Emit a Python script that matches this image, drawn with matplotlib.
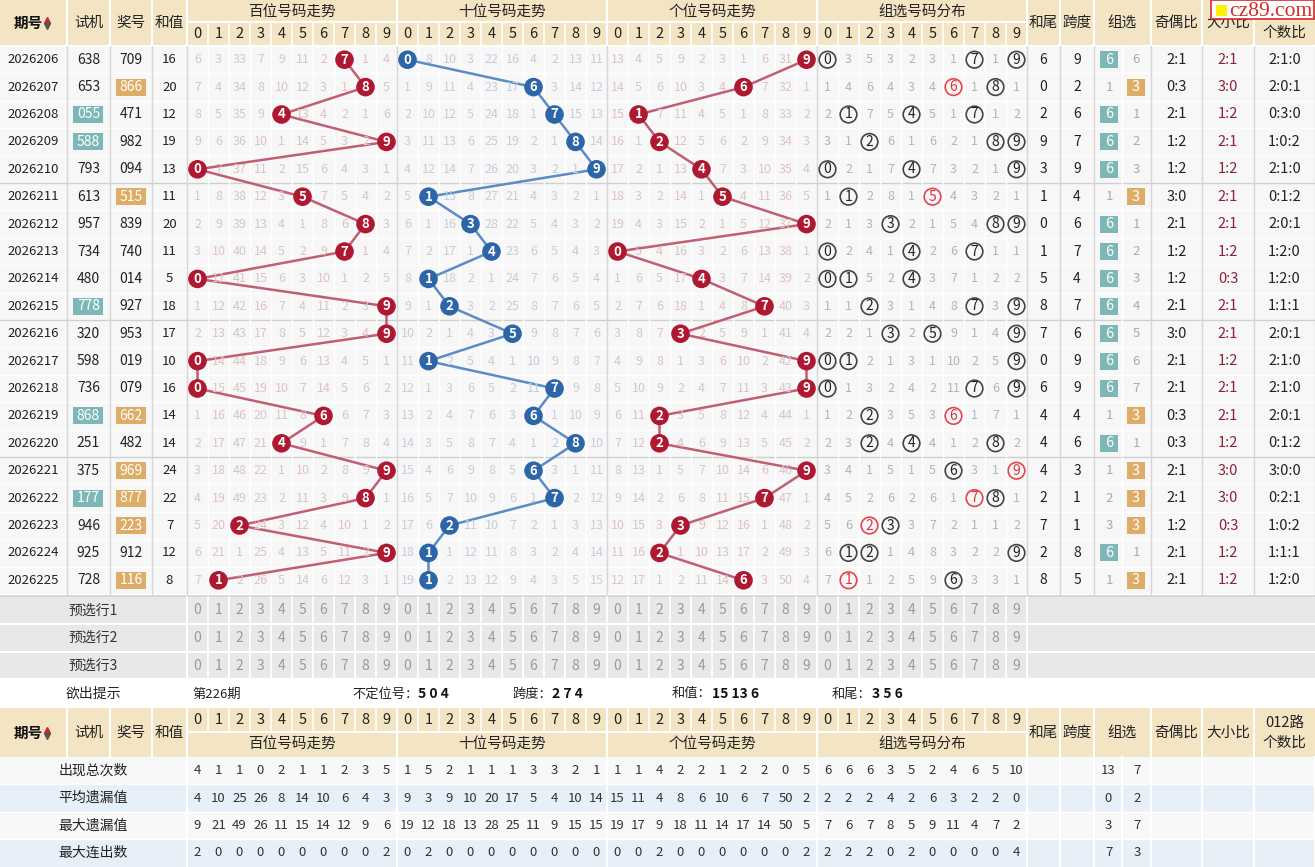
import matplotlib
matplotlib.use('Agg')
import matplotlib.pyplot as plt
from matplotlib.patches import Rectangle, Circle

plt.rcParams['font.family'] = ['Noto Sans CJK SC', 'DejaVu Sans']

# ---------------- data ----------------
periods = [2026206 + i for i in range(20)]
shiji = ['638', '653', '055', '588', '793', '613', '957', '734', '480', '778',
         '320', '598', '736', '868', '251', '375', '177', '946', '925', '728']
jianghao = ['709', '866', '471', '982', '094', '515', '839', '740', '014', '927',
            '953', '019', '079', '662', '482', '969', '877', '223', '912', '116']
hezhi = [16, 20, 12, 19, 13, 11, 20, 11, 5, 18, 17, 10, 16, 14, 14, 24, 22, 7, 12, 8]

# miss tables, 0 = drawn in that period
bai_miss = [
    [6, 3, 33, 7, 9, 11, 2, 0, 1, 4], [7, 4, 34, 8, 10, 12, 3, 1, 0, 5],
    [8, 5, 35, 9, 0, 13, 4, 2, 1, 6], [9, 6, 36, 10, 1, 14, 5, 3, 2, 0],
    [0, 7, 37, 11, 2, 15, 6, 4, 3, 1], [1, 8, 38, 12, 3, 0, 7, 5, 4, 2],
    [2, 9, 39, 13, 4, 1, 8, 6, 0, 3], [3, 10, 40, 14, 5, 2, 9, 0, 1, 4],
    [0, 11, 41, 15, 6, 3, 10, 1, 2, 5], [1, 12, 42, 16, 7, 4, 11, 2, 3, 0],
    [2, 13, 43, 17, 8, 5, 12, 3, 4, 0], [0, 14, 44, 18, 9, 6, 13, 4, 5, 1],
    [0, 15, 45, 19, 10, 7, 14, 5, 6, 2], [1, 16, 46, 20, 11, 8, 0, 6, 7, 3],
    [2, 17, 47, 21, 0, 9, 1, 7, 8, 4], [3, 18, 48, 22, 1, 10, 2, 8, 9, 0],
    [4, 19, 49, 23, 2, 11, 3, 9, 0, 1], [5, 20, 0, 24, 3, 12, 4, 10, 1, 2],
    [6, 21, 1, 25, 4, 13, 5, 11, 2, 0], [7, 0, 2, 26, 5, 14, 6, 12, 3, 1],
]
shi_miss = [
    [0, 8, 10, 3, 22, 16, 4, 2, 13, 11], [1, 9, 11, 4, 23, 17, 0, 3, 14, 12],
    [2, 10, 12, 5, 24, 18, 1, 0, 15, 13], [3, 11, 13, 6, 25, 19, 2, 1, 0, 14],
    [4, 12, 14, 7, 26, 20, 3, 2, 1, 0], [5, 0, 15, 8, 27, 21, 4, 3, 2, 1],
    [6, 1, 16, 0, 28, 22, 5, 4, 3, 2], [7, 2, 17, 1, 0, 23, 6, 5, 4, 3],
    [8, 0, 18, 2, 1, 24, 7, 6, 5, 4], [9, 1, 0, 3, 2, 25, 8, 7, 6, 5],
    [10, 2, 1, 4, 3, 0, 9, 8, 7, 6], [11, 0, 2, 5, 4, 1, 10, 9, 8, 7],
    [12, 1, 3, 6, 5, 2, 11, 0, 9, 8], [13, 2, 4, 7, 6, 3, 0, 1, 10, 9],
    [14, 3, 5, 8, 7, 4, 1, 2, 0, 10], [15, 4, 6, 9, 8, 5, 0, 3, 1, 11],
    [16, 5, 7, 10, 9, 6, 1, 0, 2, 12], [17, 6, 0, 11, 10, 7, 2, 1, 3, 13],
    [18, 0, 1, 12, 11, 8, 3, 2, 4, 14], [19, 0, 2, 13, 12, 9, 4, 3, 5, 15],
]
ge_miss = [
    [13, 4, 5, 9, 2, 3, 1, 6, 31, 0], [14, 5, 6, 10, 3, 4, 0, 7, 32, 1],
    [15, 0, 7, 11, 4, 5, 1, 8, 33, 2], [16, 1, 0, 12, 5, 6, 2, 9, 34, 3],
    [17, 2, 1, 13, 0, 7, 3, 10, 35, 4], [18, 3, 2, 14, 1, 0, 4, 11, 36, 5],
    [19, 4, 3, 15, 2, 1, 5, 12, 37, 0], [0, 5, 4, 16, 3, 2, 6, 13, 38, 1],
    [1, 6, 5, 17, 0, 3, 7, 14, 39, 2], [2, 7, 6, 18, 1, 4, 8, 0, 40, 3],
    [3, 8, 7, 0, 2, 5, 9, 1, 41, 4], [4, 9, 8, 1, 3, 6, 10, 2, 42, 0],
    [5, 10, 9, 2, 4, 7, 11, 3, 43, 0], [6, 11, 0, 3, 5, 8, 12, 4, 44, 1],
    [7, 12, 0, 4, 6, 9, 13, 5, 45, 2], [8, 13, 1, 5, 7, 10, 14, 6, 46, 0],
    [9, 14, 2, 6, 8, 11, 15, 0, 47, 1], [10, 15, 3, 0, 9, 12, 16, 1, 48, 2],
    [11, 16, 0, 1, 10, 13, 17, 2, 49, 3], [12, 17, 1, 2, 11, 14, 0, 3, 50, 4],
]
zu_miss = [
    [0, 3, 5, 3, 2, 3, 1, 0, 1, 0], [1, 4, 6, 4, 3, 4, 0, 1, 0, 1],
    [2, 0, 7, 5, 0, 5, 1, 0, 1, 2], [3, 1, 0, 6, 1, 6, 2, 1, 0, 0],
    [0, 2, 1, 7, 0, 7, 3, 2, 1, 0], [1, 0, 2, 8, 1, 0, 4, 3, 2, 1],
    [2, 1, 3, 0, 2, 1, 5, 4, 0, 0], [0, 2, 4, 1, 0, 2, 6, 0, 1, 1],
    [0, 0, 5, 2, 0, 3, 7, 1, 2, 2], [1, 1, 0, 3, 1, 4, 8, 0, 3, 0],
    [2, 2, 1, 0, 2, 0, 9, 1, 4, 0], [0, 0, 2, 1, 3, 1, 10, 2, 5, 0],
    [0, 1, 3, 2, 4, 2, 11, 0, 6, 0], [1, 2, 0, 3, 5, 3, 0, 1, 7, 1],
    [2, 3, 0, 4, 0, 4, 1, 2, 0, 2], [3, 4, 1, 5, 1, 5, 0, 3, 1, 0],
    [4, 5, 2, 6, 2, 6, 1, 0, 0, 1], [5, 6, 0, 0, 3, 7, 2, 1, 1, 2],
    [6, 0, 0, 1, 4, 8, 3, 2, 2, 0], [7, 0, 1, 2, 5, 9, 0, 3, 3, 1],
]
hewei = [6, 0, 2, 9, 3, 1, 0, 1, 5, 8, 7, 0, 6, 4, 4, 4, 2, 7, 2, 8]
kuadu = [9, 2, 6, 7, 9, 4, 6, 7, 4, 7, 6, 9, 9, 4, 6, 3, 1, 1, 8, 5]
zuxuan_miss = [6, 1, 1, 2, 3, 1, 1, 2, 3, 4, 5, 6, 7, 1, 1, 1, 2, 3, 1, 1]
jiou = ['2:1', '0:3', '2:1', '1:2', '1:2', '3:0', '2:1', '1:2', '1:2', '2:1',
        '3:0', '2:1', '2:1', '0:3', '0:3', '2:1', '2:1', '1:2', '2:1', '2:1']
daxiao = ['2:1', '3:0', '1:2', '2:1', '1:2', '2:1', '2:1', '1:2', '0:3', '2:1',
          '2:1', '1:2', '2:1', '2:1', '1:2', '3:0', '3:0', '0:3', '1:2', '1:2']
lu012 = ['2:1:0', '2:0:1', '0:3:0', '1:0:2', '2:1:0', '0:1:2', '2:0:1', '1:2:0', '1:2:0', '1:1:1',
         '2:0:1', '2:1:0', '2:1:0', '2:0:1', '0:1:2', '3:0:0', '0:2:1', '1:0:2', '1:1:1', '1:2:0']

panel_titles = ['百位号码走势', '十位号码走势', '个位号码走势', '组选号码分布']
stat_labels = ['出现总次数', '平均遗漏值', '最大遗漏值', '最大连出数']
stat_values = [
    [4, 1, 1, 0, 2, 1, 1, 2, 3, 5, 1, 5, 2, 1, 1, 1, 3, 3, 2, 1,
     1, 1, 4, 2, 2, 1, 2, 2, 0, 5, 6, 6, 6, 3, 5, 2, 4, 6, 5, 10],
    [4, 10, 25, 26, 8, 14, 10, 6, 4, 3, 9, 3, 9, 10, 20, 17, 5, 4, 10, 14,
     15, 11, 4, 8, 6, 10, 6, 7, 50, 2, 2, 2, 2, 4, 2, 6, 3, 2, 2, 0],
    [9, 21, 49, 26, 11, 15, 14, 12, 9, 6, 19, 12, 18, 13, 28, 25, 11, 9, 15, 15,
     19, 17, 9, 18, 11, 14, 17, 14, 50, 5, 7, 6, 7, 8, 5, 9, 11, 4, 7, 2],
    [2, 0, 0, 0, 0, 0, 0, 0, 0, 2, 0, 2, 0, 0, 0, 0, 0, 0, 0, 0,
     0, 0, 2, 0, 0, 0, 0, 0, 0, 2, 2, 2, 2, 0, 2, 0, 0, 0, 0, 4],
]
stat_zuxuan = [(13, 7), (0, 2), (3, 7), (7, 3)]
preselect_labels = ['预选行1', '预选行2', '预选行3']
hint_items = [('第226期', ''), ('不定位号：', '5 0 4'), ('跨度：', '2 7 4'),
              ('和值：', '15 13 6'), ('和尾：', '3 5 6')]

# ---------------- layout ----------------
W, H = 1315, 867
left_edges = [0, 67, 110, 152, 187]
left_titles = ['期号', '试机', '奖号', '和值']
panel_x = [187, 397, 607, 817]
cw = 21
right_edges = [1027, 1060, 1094, 1151, 1202, 1254, 1315]
right_titles = ['和尾', '跨度', '组选', '奇偶比', '大小比', '012路\n个数比']
y_data = 46
rh = 27.4
y_pre = 596.5
rh_pre = 27.6
y_hint = 680
y_bh = 708
y_stat = 757
rh_stat = 27.4

HEAD = '#F3E4C4'
CELL = '#F7F7F7'
SEP = '#D6D6D6'
miss_colors = ['#DCC3C8', '#C5CEDC', '#DCC3C8', '#B4B4B4']
ball_colors = ['#AE1830', '#2C65A8', '#AE1830']
line_colors = ['#C25E72', '#5A8CC6', '#C25E72']
TEAL = '#7DB7B8'
ORANGE = '#DDAC66'

fig = plt.figure(figsize=(W / 100, H / 100), dpi=100)
ax = fig.add_axes([0, 0, 1, 1])
ax.set_xlim(0, W)
ax.set_ylim(H, 0)
ax.axis('off')


def rect(x0, y0, x1, y1, fc, ec='none', lw=0, z=1):
    ax.add_patch(Rectangle((x0, y0), x1 - x0, y1 - y0, fc=fc, ec=ec, lw=lw, zorder=z))


def txt(x, y, s, size=9, color='#222222', z=6, **kw):
    ax.text(x, y, s, fontsize=size, color=color, ha=kw.pop('ha', 'center'),
            va='center', zorder=z, **kw)


def header(y0, y1, digits_first):
    rect(0, y0, W, y1, HEAD)
    ym = (y0 + y1) / 2 - 0.5
    yt, yd = (y0, ym) if not digits_first else (ym, y0)
    for i, t in enumerate(left_titles):
        xc = (left_edges[i] + left_edges[i + 1]) / 2
        if i == 0:
            txt(xc - 5, (y0 + y1) / 2, t, 10.5, '#111111', weight='bold')
            ax.plot(xc + 14, (y0 + y1) / 2 - 3, marker='^', ms=4.5, color='#D02030', zorder=7)
            ax.plot(xc + 14, (y0 + y1) / 2 + 3, marker='v', ms=4.5, color='#555555', zorder=7)
        else:
            txt(xc, (y0 + y1) / 2, t, 10.5)
    for e in left_edges[1:]:
        ax.plot([e, e], [y0, y1], color='white', lw=1.5, zorder=3)
    for p, px in enumerate(panel_x):
        txt(px + 105, yt + 11.5, panel_titles[p], 10.5)
        for d in range(10):
            txt(px + cw * (d + 0.5), yd + 12, str(d), 10.5)
            ax.plot([px + cw * d, px + cw * d], [yd, yd + 22.5], color='white', lw=1.2, zorder=3)
        ax.plot([px, px], [y0, y1], color='white', lw=1.5, zorder=3)
        ax.plot([px, px + 210], [ym, ym], color='white', lw=1.5, zorder=3)
    for i, t in enumerate(right_titles):
        xc = (right_edges[i] + right_edges[i + 1]) / 2
        txt(xc, (y0 + y1) / 2, t, 10.5, linespacing=1.5)
        ax.plot([right_edges[i], right_edges[i]], [y0, y1], color='white', lw=1.5, zorder=3)


rect(0, 0, W, H, 'white', z=0)

# top header
header(0, 45, digits_first=False)

# data body background and grid
rect(0, y_data, W, y_data + 20 * rh, CELL)
for r in range(21):
    yy = y_data + r * rh
    c = '#CFCFCF' if r % 5 == 0 and r not in (0, 20) else 'white'
    ax.plot([0, W], [yy, yy], color=c, lw=1, zorder=2)
for px in panel_x:
    for d in range(1, 10):
        ax.plot([px + cw * d] * 2, [y_data, y_data + 20 * rh], color='white', lw=1, zorder=2)
for e in left_edges[1:] + panel_x[1:] + right_edges:
    ax.plot([e, e], [y_data, y_data + 20 * rh], color=SEP, lw=1, zorder=2)
ax.plot([1122.5, 1122.5], [y_data, y_data + 20 * rh], color='white', lw=1, zorder=2)

for r in range(20):
    yc = y_data + (r + 0.5) * rh
    txt(33, yc, str(periods[r]), 9.5)
    for s, xc, hl in ((shiji[r], 88.5, TEAL), (jianghao[r], 131, ORANGE)):
        if len(set(s)) < 3:
            rect(xc - 15, yc - 8.5, xc + 15, yc + 8.5, hl, z=4)
            txt(xc, yc, s, 10, 'white')
        else:
            txt(xc, yc, s, 10)
    txt(169.5, yc, str(hezhi[r]), 9.5)

# position panels: misses, balls, connecting lines
for p, table in enumerate([bai_miss, shi_miss, ge_miss]):
    px = panel_x[p]
    xs, ys = [], []
    for r in range(20):
        yc = y_data + (r + 0.5) * rh
        for d in range(10):
            v = table[r][d]
            if v:
                txt(px + cw * (d + 0.5), yc, str(v), 9, miss_colors[p])
        dig = int(jianghao[r][p])
        xs.append(px + cw * (dig + 0.5))
        ys.append(yc)
    ax.plot(xs, ys, color=line_colors[p], lw=1.8, zorder=5, solid_capstyle='round')
    for x, y, r in zip(xs, ys, range(20)):
        ax.add_patch(Circle((x, y), 9.3, fc=ball_colors[p], ec='none', zorder=6))
        txt(x, y, jianghao[r][p], 9.5, 'white', z=7, weight='bold')

# group distribution panel
px = panel_x[3]
for r in range(20):
    yc = y_data + (r + 0.5) * rh
    for d in range(10):
        v = zu_miss[r][d]
        xc = px + cw * (d + 0.5)
        if v:
            txt(xc, yc, str(v), 9, miss_colors[3])
        else:
            double = jianghao[r].count(str(d)) > 1
            ec = '#E8434D' if double else '#444444'
            ax.add_patch(Circle((xc, yc), 8.3, fc='none', ec=ec, lw=1.2, zorder=6))
            txt(xc, yc, str(d), 10, '#E0323C' if double else '#222222')

# right columns
for r in range(20):
    yc = y_data + (r + 0.5) * rh
    txt(1043.5, yc, str(hewei[r]), 10)
    txt(1077, yc, str(kuadu[r]), 10)
    pair = len(set(jianghao[r])) < 3
    if pair:
        txt(1109, yc, str(zuxuan_miss[r]), 9.5, '#AAAAAA')
        rect(1127, yc - 8.5, 1145, yc + 8.5, ORANGE, z=4)
        txt(1136, yc, '3', 10.5, 'white')
    else:
        rect(1100, yc - 8.5, 1118, yc + 8.5, TEAL, z=4)
        txt(1109, yc, '6', 10.5, 'white')
        txt(1136, yc, str(zuxuan_miss[r]), 9.5, '#AAAAAA')
    txt(1176.5, yc, jiou[r], 10.5)
    txt(1228, yc, daxiao[r], 10.5, '#8E2236')
    txt(1284.5, yc, lu012[r], 10.5)

# preselect rows
rect(0, y_data + 20 * rh, W, y_pre, '#D2D2D2')
rect(0, y_pre, W, y_pre + 3 * rh_pre, '#E8E8E8')
for i, lab in enumerate(preselect_labels):
    yc = y_pre + (i + 0.5) * rh_pre
    txt(93, yc, lab, 10, '#333333')
    for px in panel_x:
        for d in range(10):
            txt(px + cw * (d + 0.5), yc, str(d), 10, '#9A9A9A')
    ax.plot([0, W], [y_pre + (i + 1) * rh_pre] * 2, color='white', lw=1.5, zorder=2)
for px in panel_x:
    for d in range(11):
        ax.plot([px + cw * d] * 2, [y_pre, y_pre + 3 * rh_pre], color='white', lw=1.2, zorder=2)
ax.plot([187, 187], [y_pre, y_pre + 3 * rh_pre], color='white', lw=1.5, zorder=2)

# hint row
yc = (y_hint + y_bh) / 2
txt(93, yc, '欲出提示', 10, '#222222')
for k, (lab, val) in enumerate(hint_items):
    x0 = 192 + 160 * k
    t = ax.text(x0, yc, lab, fontsize=9.5, color='#222222', ha='left', va='center', zorder=6)
    if val:
        ax.annotate(val, xycoords=t, xy=(1, 0.5), va='center', ha='left', fontsize=10,
                    weight='bold', color='#111111', zorder=6)

# bottom header and stats
header(y_bh, y_stat, digits_first=True)
for i, lab in enumerate(stat_labels):
    y0 = y_stat + i * rh_stat
    rect(0, y0, W, y0 + rh_stat, '#F8F8F8' if i % 2 == 0 else '#E7EFF9')
    yc = y0 + rh_stat / 2
    txt(93, yc, lab, 10, '#222222')
    for j, v in enumerate(stat_values[i]):
        px = panel_x[j // 10]
        txt(px + cw * (j % 10 + 0.5), yc, str(v), 9.5, '#333333')
    a, b = stat_zuxuan[i]
    txt(1108.5, yc, str(a), 9.5, '#333333')
    txt(1137, yc, str(b), 9.5, '#333333')
for e in [187] + panel_x[1:] + right_edges + [1122.5]:
    ax.plot([e, e], [y_stat, H], color='white', lw=1.5, zorder=2)
for i in range(1, 4):
    ax.plot([0, W], [y_stat + i * rh_stat] * 2, color='white', lw=1, zorder=2)

# site logo over the header corner
rect(1211, 0, 1314, 19, 'white', ec='#D42A2A', lw=1.2, z=8)
rect(1216, 5, 1227, 16, '#FFF200', z=9)
ax.text(1229, 16, 'cz89.com', fontsize=15.5, color='#D42A2A', ha='left', va='baseline',
        family=['Liberation Serif', 'DejaVu Serif'], zorder=9)

fig.savefig('out.png', dpi=100)
